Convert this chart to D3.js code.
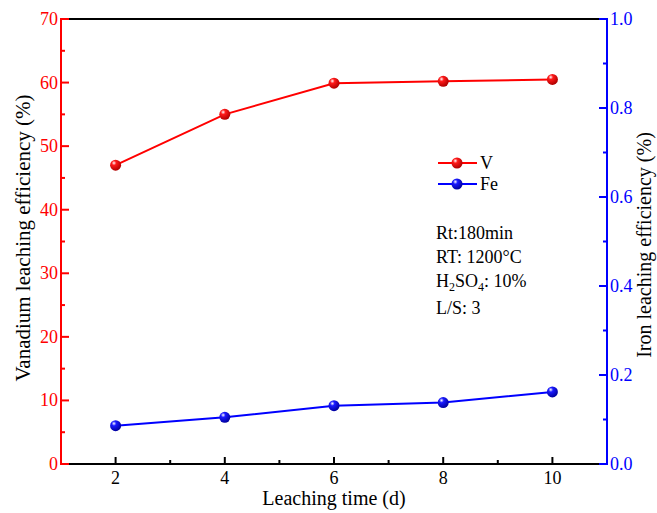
<!DOCTYPE html>
<html><head><meta charset="utf-8">
<script src="https://cdn.jsdelivr.net/npm/d3@7"></script>
<style>body{margin:0;background:#fff}svg{display:block}text{font-family:"Liberation Serif","Times New Roman",serif}</style>
</head><body>
<script>
const days = [2, 4, 6, 8, 10];
const vanadium = [47.0, 55.0, 59.9, 60.2, 60.5];
const iron = [0.086, 0.105, 0.131, 0.138, 0.162];
const xTicks = [2, 4, 6, 8, 10];
const leftTicks = [0, 10, 20, 30, 40, 50, 60, 70];
const rightTicks = [0.0, 0.2, 0.4, 0.6, 0.8, 1.0];
const notes = ["Rt:180min", "RT: 1200\u00B0C", "H2SO4: 10%", "L/S: 3"];

const W = 657, H = 513;
const m = {l: 61, r: 607, t: 19, b: 464};
const svg = d3.select("body").append("svg").attr("width", W).attr("height", H);
const defs = svg.append("defs");
function grad(id, c, dark){
  const g = defs.append("radialGradient").attr("id", id).attr("cx","35%").attr("cy","30%").attr("r","70%");
  g.append("stop").attr("offset","0%").attr("stop-color","#fff");
  g.append("stop").attr("offset","30%").attr("stop-color",c);
  g.append("stop").attr("offset","100%").attr("stop-color",dark);
}
grad("gR","#ff1a1a","#b00000");
grad("gB","#1a1aff","#0000a0");

const x = d3.scaleLinear().domain([1, 11]).range([m.l, m.r]);
const yL = d3.scaleLinear().domain([0, 70]).range([m.b, m.t]);
const yR = d3.scaleLinear().domain([0, 1]).range([m.b, m.t]);

// top frame
svg.append("line").attr("x1", m.l).attr("x2", m.r).attr("y1", m.t).attr("y2", m.t).attr("stroke","#000").attr("stroke-width",2);

// bottom axis
const xAx = svg.append("g").attr("transform",`translate(0,${m.b})`);
xAx.append("line").attr("x1", m.l).attr("x2", m.r).attr("stroke","#000").attr("stroke-width",2);
xAx.selectAll(".mj").data(xTicks).join("line").attr("x1",d=>x(d)).attr("x2",d=>x(d)).attr("y1",0).attr("y2",-7).attr("stroke","#000").attr("stroke-width",2);
xAx.selectAll(".mn").data(d3.range(3, 10, 2)).join("line").attr("x1",d=>x(d)).attr("x2",d=>x(d)).attr("y1",0).attr("y2",-4).attr("stroke","#000").attr("stroke-width",2);
xAx.selectAll("text").data(xTicks).join("text").attr("x",d=>x(d)).attr("y",20).attr("text-anchor","middle").attr("font-size",18).text(d=>d);
svg.append("text").attr("x",(m.l+m.r)/2).attr("y",505).attr("text-anchor","middle").attr("font-size",20).text("Leaching time (d)");

// left axis
const red = "#ff0000", blue = "#0000ff";
const lAx = svg.append("g").attr("transform",`translate(${m.l},0)`);
lAx.append("line").attr("y1", m.t).attr("y2", m.b).attr("stroke",red).attr("stroke-width",2);
lAx.selectAll(".mj").data(leftTicks).join("line").attr("y1",d=>yL(d)).attr("y2",d=>yL(d)).attr("x1",-1).attr("x2",8).attr("stroke",red).attr("stroke-width",2);
lAx.selectAll(".mn").data(d3.range(5, 70, 10)).join("line").attr("y1",d=>yL(d)).attr("y2",d=>yL(d)).attr("x1",0).attr("x2",4).attr("stroke",red).attr("stroke-width",2);
lAx.selectAll("text").data(leftTicks).join("text").attr("x",-3).attr("y",d=>yL(d)+6).attr("text-anchor","end").attr("font-size",18).attr("fill",red).text(d=>d);
svg.append("text").attr("transform",`translate(30,238) rotate(-90)`).attr("text-anchor","middle").attr("font-size",21).text("Vanadium leaching efficiency (%)");

// right axis
const rAx = svg.append("g").attr("transform",`translate(${m.r},0)`);
rAx.append("line").attr("y1", m.t).attr("y2", m.b).attr("stroke",blue).attr("stroke-width",2);
rAx.selectAll(".mj").data(rightTicks).join("line").attr("y1",d=>yR(d)).attr("y2",d=>yR(d)).attr("x1",1).attr("x2",-8).attr("stroke",blue).attr("stroke-width",2);
rAx.selectAll(".mn").data(d3.range(0.1, 1, 0.2)).join("line").attr("y1",d=>yR(d)).attr("y2",d=>yR(d)).attr("x1",0).attr("x2",-4).attr("stroke",blue).attr("stroke-width",2);
rAx.selectAll("text").data(rightTicks).join("text").attr("x",3).attr("y",d=>yR(d)+6).attr("text-anchor","start").attr("font-size",18).attr("fill",blue).text(d=>d.toFixed(1));
svg.append("text").attr("transform",`translate(651,245) rotate(-90)`).attr("text-anchor","middle").attr("font-size",20).text("Iron leaching efficiency (%)");

// series
function series(vals, sc, col, g){
  const pts = days.map((d,i)=>[x(d), sc(vals[i])]);
  svg.append("path").attr("d", d3.line()(pts)).attr("fill","none").attr("stroke",col).attr("stroke-width",2);
  svg.selectAll(null).data(pts).join("circle").attr("cx",p=>p[0]).attr("cy",p=>p[1]).attr("r",5.5).attr("fill",`url(#${g})`);
}
series(vanadium, yL, red, "gR");
series(iron, yR, blue, "gB");

// legend
const leg = [["V", red, "gR", 163], ["Fe", blue, "gB", 184]];
leg.forEach(([t,c,g,yy])=>{
  svg.append("line").attr("x1",438).attr("x2",477).attr("y1",yy).attr("y2",yy).attr("stroke",c).attr("stroke-width",2);
  svg.append("circle").attr("cx",457).attr("cy",yy).attr("r",5.5).attr("fill",`url(#${g})`);
  svg.append("text").attr("x",480).attr("y",yy+6).attr("font-size",18).text(t);
});

// notes
const ny = [239, 263, 287, 314];
notes.forEach((t,i)=>{
  const tx = svg.append("text").attr("x",436).attr("y",ny[i]).attr("font-size",18);
  if (t.startsWith("H2SO4")) {
    tx.append("tspan").text("H");
    tx.append("tspan").attr("font-size",12).attr("dy",4).text("2");
    tx.append("tspan").attr("dy",-4).text("SO");
    tx.append("tspan").attr("font-size",12).attr("dy",4).text("4");
    tx.append("tspan").attr("dy",-4).text(": 10%");
  } else tx.text(t);
});
</script>
</body></html>
